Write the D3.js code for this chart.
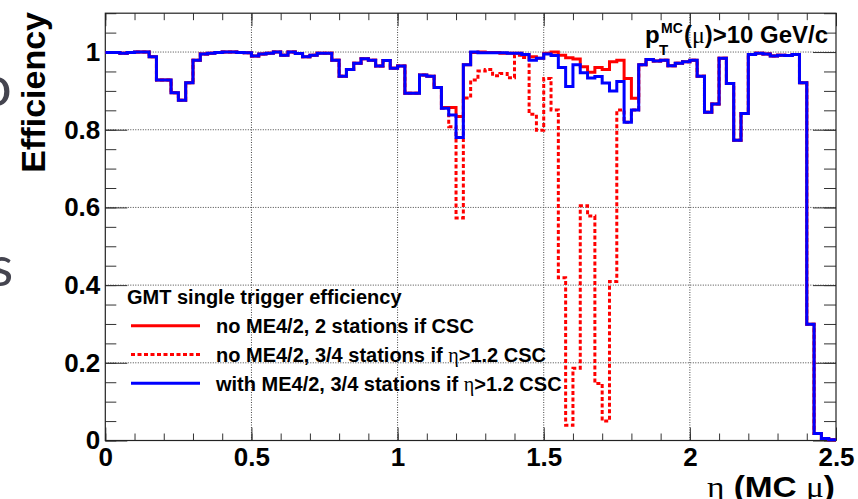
<!DOCTYPE html>
<html>
<head>
<meta charset="utf-8">
<script src="https://cdn.jsdelivr.net/npm/d3@7.9.0/dist/d3.min.js"></script>
<style>
  html, body { margin: 0; padding: 0; background: #fff; }
  svg text { font-family: "Liberation Sans", Arial, sans-serif; font-weight: bold; }
</style>
</head>
<body>
<svg id="chart" width="858" height="499"></svg>
<script>
// eta bins: 100 bins of 0.025 between 0 and 2.5
const etaMin = 0, etaMax = 2.5, nBins = 100;

// with ME4/2, 3/4 stations if eta>1.2 CSC
const withME42 = [
  0.999,0.999,0.997,0.999,1.000,1.000,0.988,0.928,0.928,0.895,
  0.876,0.921,0.979,0.995,0.997,0.999,1.000,1.000,0.999,0.998,
  0.990,0.995,0.997,1.000,0.992,1.000,0.996,0.988,0.992,0.997,
  0.997,0.979,0.938,0.955,0.971,0.983,0.979,0.964,0.978,0.958,
  0.964,0.894,0.894,0.941,0.938,0.909,0.855,0.838,0.780,0.967,
  1.000,0.998,0.998,0.998,0.998,0.997,0.997,0.994,0.979,0.984,
  0.995,0.991,0.960,0.911,0.967,0.947,0.933,0.937,0.920,0.900,
  0.924,0.819,0.851,0.967,0.981,0.977,0.979,0.965,0.971,0.975,
  0.979,0.938,0.845,0.866,0.984,0.919,0.773,0.842,0.994,0.997,
  0.995,0.990,0.992,0.991,0.994,0.921,0.299,0.018,0.005,0.002
];

// no ME4/2, 2 stations if CSC
const noME42_2st = [
  0.999,0.999,0.997,0.999,1.000,1.000,0.988,0.928,0.928,0.895,
  0.876,0.921,0.979,0.995,0.997,0.999,1.000,1.000,0.999,0.998,
  0.990,0.995,0.997,1.000,0.992,1.000,0.996,0.988,0.992,0.997,
  0.997,0.979,0.938,0.955,0.971,0.983,0.979,0.964,0.978,0.958,
  0.964,0.894,0.894,0.941,0.938,0.909,0.857,0.857,0.834,0.967,
  0.999,1.000,0.999,0.999,0.997,0.997,0.997,0.993,0.988,0.984,
  0.997,1.000,0.992,0.985,0.982,0.962,0.948,0.960,0.955,0.975,
  0.979,0.932,0.881,0.967,0.981,0.977,0.979,0.965,0.971,0.975,
  0.979,0.938,0.845,0.866,0.984,0.919,0.773,0.842,0.994,0.997,
  0.995,0.990,0.992,0.991,0.994,0.921,0.299,0.018,0.005,0.002
];

// no ME4/2, 3/4 stations if eta>1.2 CSC
const noME42_34st = [
  0.999,0.999,0.997,0.999,1.000,1.000,0.988,0.928,0.928,0.895,
  0.876,0.921,0.979,0.995,0.997,0.999,1.000,1.000,0.999,0.998,
  0.990,0.995,0.997,1.000,0.992,1.000,0.996,0.988,0.992,0.997,
  0.997,0.979,0.938,0.955,0.971,0.983,0.979,0.964,0.978,0.958,
  0.964,0.894,0.894,0.941,0.938,0.909,0.855,0.808,0.573,0.882,
  0.928,0.951,0.955,0.939,0.945,0.934,0.992,0.986,0.840,0.799,
  0.932,0.851,0.419,0.039,0.186,0.604,0.578,0.147,0.050,0.409,
  0.851,0.819,0.851,0.967,0.981,0.977,0.979,0.965,0.971,0.975,
  0.979,0.938,0.845,0.866,0.984,0.919,0.773,0.842,0.994,0.997,
  0.995,0.990,0.992,0.991,0.994,0.921,0.299,0.018,0.005,0.002
];

const xTicks = [0, 0.5, 1, 1.5, 2, 2.5];
const yTicks = [0, 0.2, 0.4, 0.6, 0.8, 1];
const legendTitle = 'GMT single trigger efficiency';

const svg = d3.select('#chart');
const padL = 105.3, padR = 836, padB = 440.5, padT = 13.2;

const x = d3.scaleLinear().domain([etaMin, etaMax]).range([padL, padR]);
const y = d3.scaleLinear().domain([0, 1.1]).range([padB, padT]);

// pieces of the slide behind the plot
svg.append('text').attr('x', -20).attr('y', 106)
  .style('font-family', 'Lato').style('font-weight', 'normal')
  .style('font-size', '56px').attr('fill', '#44444f').text('o');
svg.append('text').attr('x', -11).attr('y', 286)
  .style('font-family', 'Lato').style('font-weight', 'normal')
  .style('font-size', '56px').attr('fill', '#44444f').text('s');

// grid
const grid = svg.append('g').attr('stroke', '#444').attr('stroke-width', 1)
  .attr('stroke-dasharray', '1,1.5');
yTicks.filter(d => d > 0).forEach(d => {
  grid.append('line').attr('x1', padL).attr('x2', padR)
    .attr('y1', y(d)).attr('y2', y(d));
});
xTicks.filter(d => d > 0 && d < etaMax).forEach(d => {
  grid.append('line').attr('y1', padB).attr('y2', padT)
    .attr('x1', x(d)).attr('x2', x(d));
});

// axes, ROOT style ticks pointing inside
const xMinor = d3.range(0, 26).map(i => i / 10);
const yMinor = d3.range(0, 23).map(i => i * 0.05);

function styleAxis(g) {
  g.select('.domain').remove();
  g.selectAll('line').attr('stroke', '#333');
  g.selectAll('text').attr('fill', '#000')
    .style('font-size', '26px').style('font-family', '"Liberation Sans", Arial, sans-serif')
    .style('font-weight', 'bold');
}

svg.append('g').attr('transform', `translate(0,${padB})`)
  .call(d3.axisBottom(x).tickValues(xMinor).tickSize(-7).tickFormat(''))
  .call(styleAxis);
svg.append('g').attr('transform', `translate(0,${padB})`)
  .call(d3.axisBottom(x).tickValues(xTicks).tickSize(-13).tickPadding(7.5)
    .tickFormat(d3.format('~g')))
  .call(styleAxis);
svg.append('g').attr('transform', `translate(0,${padT})`)
  .call(d3.axisTop(x).tickValues(xMinor).tickSize(-7).tickFormat(''))
  .call(styleAxis);
svg.append('g').attr('transform', `translate(0,${padT})`)
  .call(d3.axisTop(x).tickValues(xTicks).tickSize(-13).tickFormat(''))
  .call(styleAxis);

svg.append('g').attr('transform', `translate(${padL},0)`)
  .call(d3.axisLeft(y).tickValues(yMinor).tickSize(-11).tickFormat(''))
  .call(styleAxis);
svg.append('g').attr('transform', `translate(${padL},0)`)
  .call(d3.axisLeft(y).tickValues(yTicks).tickSize(-22).tickPadding(5)
    .tickFormat(d3.format('~g')))
  .call(styleAxis);
svg.append('g').attr('transform', `translate(${padR},0)`)
  .call(d3.axisRight(y).tickValues(yMinor).tickSize(-12).tickFormat(''))
  .call(styleAxis);
svg.append('g').attr('transform', `translate(${padR},0)`)
  .call(d3.axisRight(y).tickValues(yTicks).tickSize(-23).tickFormat(''))
  .call(styleAxis);

// frame
svg.append('rect').attr('x', padL).attr('y', padT)
  .attr('width', padR - padL).attr('height', padB - padT)
  .attr('fill', 'none').attr('stroke', '#222').attr('stroke-width', 1.2);

// histograms as steps
const binW = (etaMax - etaMin) / nBins;
const step = d3.line().x(d => x(d[0])).y(d => y(d[1])).curve(d3.curveStepAfter);
function histPoints(vals) {
  const pts = vals.map((v, i) => [etaMin + i * binW, v]);
  pts.push([etaMax, vals[vals.length - 1]]);
  return pts;
}

const series = [
  { label: 'no ME4/2, 2 stations if CSC', values: noME42_2st, color: '#ff0000', dash: null },
  { label: 'no ME4/2, 3/4 stations if η>1.2 CSC', values: noME42_34st, color: '#ff0000', dash: '4,2.5' },
  { label: 'with ME4/2, 3/4 stations if η>1.2 CSC', values: withME42, color: '#0000ff', dash: null }
];

series.forEach(s => {
  svg.append('path').datum(histPoints(s.values))
    .attr('d', step).attr('fill', 'none')
    .attr('stroke', s.color).attr('stroke-width', 3)
    .attr('stroke-dasharray', s.dash);
});

// legend
const lg = svg.append('g');
lg.append('text').attr('x', 127).attr('y', 304).style('font-size', '20px').text(legendTitle);
series.forEach((s, i) => {
  const yy = 325.7 + i * 28.8;
  lg.append('line').attr('x1', 131).attr('x2', 200).attr('y1', yy).attr('y2', yy)
    .attr('stroke', s.color).attr('stroke-width', 3).attr('stroke-dasharray', s.dash);
  const t = lg.append('text').attr('x', 216).attr('y', yy + 7.2).style('font-size', '20px');
  s.label.split(/(η)/).forEach(part => {
    const ts = t.append('tspan').text(part);
    if (part === 'η') ts.style('font-family', '"Liberation Serif", serif').style('font-weight', 'normal');
  });
});

// pT label
svg.append('text').attr('x', 645).attr('y', 43).style('font-size', '24px').text('p');
svg.append('text').attr('x', 659).attr('y', 55).style('font-size', '15px').text('T');
svg.append('text').attr('x', 661).attr('y', 33).style('font-size', '14px').text('MC');
const pt = svg.append('text').attr('x', 684).attr('y', 43).style('font-size', '23px')
  .attr('textLength', 144).attr('lengthAdjust', 'spacingAndGlyphs');
pt.append('tspan').text('(');
pt.append('tspan').style('font-family', '"Liberation Serif", serif').style('font-weight', 'normal').text('μ');
pt.append('tspan').text(')>10 GeV/c');

// axis titles
const xt = svg.append('text').attr('x', padR - 1).attr('y', 497)
  .attr('text-anchor', 'end').style('font-size', '30px')
  .attr('textLength', 128).attr('lengthAdjust', 'spacingAndGlyphs');
xt.append('tspan').style('font-family', '"Liberation Serif", serif').style('font-weight', 'normal').text('η');
xt.append('tspan').text(' (MC ');
xt.append('tspan').style('font-family', '"Liberation Serif", serif').style('font-weight', 'normal').text('μ');
xt.append('tspan').text(')');

svg.append('text').attr('transform', 'translate(45,12) rotate(-90)')
  .attr('text-anchor', 'end').style('font-size', '34px').text('Efficiency');
</script>
</body>
</html>
